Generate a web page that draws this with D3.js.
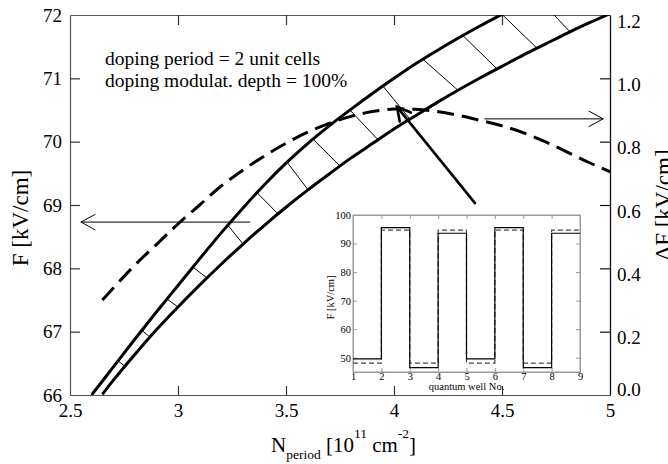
<!DOCTYPE html>
<html><head><meta charset="utf-8">
<script src="https://cdn.jsdelivr.net/npm/d3@7"></script>
<style>
body{margin:0;background:#fff}
svg{display:block}
</style>
</head><body>
<svg id="c" width="668" height="464"></svg>
<script>
// ---------- data ----------
const xTicks = [2.5, 3, 3.5, 4, 4.5, 5];
const xTickLabels = ["2.5", "3", "3.5", "4", "4.5", "5"];
const yTicks = [66, 67, 68, 69, 70, 71, 72];
const yRTicks = [0, 0.2, 0.4, 0.6, 0.8, 1.0, 1.2];

const upperN = [2.6,2.7,2.8,2.9,3.0,3.1,3.2,3.3,3.4,3.5,3.6,3.7,3.8,3.9,4.0,4.1,4.2,4.3,4.4,4.5,4.6,4.7,4.8,4.9];
const upperF = [66.0,66.44,66.88,67.31,67.73,68.15,68.56,68.95,69.32,69.66,69.97,70.25,70.51,70.76,71.00,71.23,71.44,71.64,71.83,72.01,72.19,72.36,72.53,72.69];

const lowerN = [2.65,2.7,2.8,2.9,3.0,3.1,3.2,3.3,3.4,3.5,3.6,3.7,3.8,3.9,4.0,4.1,4.2,4.3,4.4,4.5,4.6,4.7,4.8,4.9,5.0];
const lowerF = [66.01,66.23,66.64,67.03,67.39,67.735,68.065,68.38,68.68,68.965,69.235,69.49,69.74,69.97,70.20,70.41,70.62,70.82,71.01,71.19,71.37,71.54,71.71,71.87,72.02];

const dfN = [2.65,2.8,2.9,3.0,3.1,3.2,3.3,3.4,3.5,3.6,3.7,3.8,3.9,4.0,4.1,4.2,4.3,4.4,4.5,4.6,4.7,4.8,4.9,5.0];
const dfVal = [0.30,0.41,0.475,0.54,0.60,0.66,0.71,0.755,0.795,0.83,0.858,0.88,0.895,0.903,0.902,0.895,0.883,0.867,0.85,0.828,0.80,0.768,0.735,0.705];

// hatch lines: N on upper curve -> N on lower curve
const hatchUpperN = [2.722,2.833,2.949,3.069,3.231,3.366,3.505,3.625,3.796,3.949,4.134,4.319,4.5,4.66];
const hatchLowerN = [2.755,2.870,3.0,3.134,3.301,3.463,3.602,3.75,3.926,4.074,4.296,4.477,4.662,4.815];

// inset: quantum well field profile
const wellNo = [1,2,3,4,5,6,7,8,9];
const wellSolid = [49.6,95.6,46.5,93.6,49.6,95.6,46.5,93.6,93.6];
const wellDashed = [48.1,94.7,48.1,94.7,48.1,94.7,48.1,94.7,94.7];
const insetYTicks = [50,60,70,80,90,100];

const legendLines = ["doping period = 2 unit cells", "doping modulat. depth = 100%"];

// ---------- layout ----------
const FONT = "'Liberation Serif', 'Times New Roman', Times, 'DejaVu Serif', serif";
const svg = d3.select("#c").style("font-family", FONT);
const M = {l:70, r:610, t:15, b:395};
const x = d3.scaleLinear().domain([2.5,5]).range([M.l,M.r]);
const y = d3.scaleLinear().domain([66,72]).range([M.b,M.t]);
const yR = d3.scaleLinear().domain([0,1.2]).range([M.b,M.t]);

svg.append("defs").append("clipPath").attr("id","clip")
  .append("rect").attr("x",M.l).attr("y",M.t).attr("width",M.r-M.l).attr("height",M.b-M.t);

// ---------- axes ----------
const fs = "19px";
const gB = svg.append("g").attr("transform",`translate(0,${M.b})`)
  .call(d3.axisBottom(x).tickValues(xTicks).tickFormat((d,i)=>xTickLabels[i]).tickSize(-9).tickSizeOuter(0).tickPadding(9));
const gT = svg.append("g").attr("transform",`translate(0,${M.t})`)
  .call(d3.axisTop(x).tickValues(xTicks).tickFormat("").tickSize(-10).tickSizeOuter(0));
const gL = svg.append("g").attr("transform",`translate(${M.l},0)`)
  .call(d3.axisLeft(y).tickValues(yTicks).tickFormat(d3.format("d")).tickSize(-10).tickSizeOuter(0).tickPadding(8));
const gR = svg.append("g").attr("transform",`translate(${M.r},0)`)
  .call(d3.axisRight(yR).tickValues(yRTicks).tickFormat(d3.format(".1f")).tickSize(-10).tickSizeOuter(0).tickPadding(7));
[gB,gT,gL].forEach(g=>{g.select(".domain").attr("stroke","#555").attr("stroke-width",1.2);
  g.selectAll(".tick line").attr("stroke","#333").attr("stroke-width",1.2);});
gR.select(".domain").attr("stroke","#111").attr("stroke-width",1.3);
gR.selectAll(".tick line").attr("stroke","#111").attr("stroke-width",1.2);
[gB,gT,gL,gR].forEach(g=>g.attr("font-family",null).attr("font-size",null));
svg.selectAll(".tick text").style("font-size",fs).style("font-family",FONT).attr("fill","#000");
gR.selectAll(".tick text").attr("transform",d=> d===0 ? "translate(0,-6)" : "translate(0,6)");
svg.selectAll(".tick").filter(d=>d===2.5||d===5||d===66||d===72).select("line").remove();
gR.selectAll(".tick").filter(d=>d===0||d===1.2).select("line").remove();

// axis titles
const xt = svg.append("text").attr("x",271).attr("y",452).style("font-size","21px").style("font-family",FONT);
xt.append("tspan").text("N");
xt.append("tspan").attr("dy",7).style("font-size","13.5px").text("period");
xt.append("tspan").attr("dy",-7).text(" [10");
xt.append("tspan").attr("dy",-14).style("font-size","13.5px").text("11");
xt.append("tspan").attr("dy",14).text(" cm");
xt.append("tspan").attr("dy",-14).style("font-size","13.5px").text("-2");
xt.append("tspan").attr("dy",14).text("]");

svg.append("text").attr("transform","translate(28,218) rotate(-90)").style("font-family",FONT)
  .attr("text-anchor","middle").style("font-size","23px").text("F [kV/cm]");
svg.append("text").attr("transform","translate(671,205) rotate(-90)").style("font-family",FONT)
  .attr("text-anchor","middle").style("font-size","23px").text("ΔF [kV/cm]");

// ---------- curves ----------
const plot = svg.append("g").attr("clip-path","url(#clip)");
const upperPts = upperN.map((n,i)=>[n,upperF[i]]);
const lowerPts = lowerN.map((n,i)=>[n,lowerF[i]]);
const dfPts = dfN.map((n,i)=>[n,dfVal[i]]);
const lineF = d3.line().x(d=>x(d[0])).y(d=>y(d[1])).curve(d3.curveCatmullRom);
const lineDF = d3.line().x(d=>x(d[0])).y(d=>yR(d[1])).curve(d3.curveCatmullRom);

const upInterp = d3.scaleLinear().domain(upperN).range(upperF);
const loInterp = d3.scaleLinear().domain(lowerN).range(lowerF);
plot.selectAll("line.hatch").data(hatchUpperN).join("line").attr("class","hatch")
  .attr("x1",d=>x(d)).attr("y1",d=>y(upInterp(d)))
  .attr("x2",(d,i)=>x(hatchLowerN[i])).attr("y2",(d,i)=>y(loInterp(hatchLowerN[i])))
  .attr("stroke","#000").attr("stroke-width",1);

plot.append("path").attr("d",lineF(upperPts)).attr("fill","none").attr("stroke","#000").attr("stroke-width",3);
plot.append("path").attr("d",lineF(lowerPts)).attr("fill","none").attr("stroke","#000").attr("stroke-width",3);
plot.append("path").attr("d",lineDF(dfPts)).attr("fill","none").attr("stroke","#000").attr("stroke-width",3)
  .attr("stroke-dasharray","17,8");

// ---------- legend text ----------
svg.selectAll("text.leg").data(legendLines).join("text").attr("class","leg").style("font-family",FONT)
  .attr("x",105).attr("y",(d,i)=>65+i*22).style("font-size","19.5px").text(d=>d);

// ---------- arrows ----------
function arrow(p0, p1, w, L, ang){
  const g = svg.append("g").attr("fill","none").attr("stroke","#000").attr("stroke-width",w).attr("stroke-linecap","round");
  g.append("line").attr("x1",p0[0]).attr("y1",p0[1]).attr("x2",p1[0]).attr("y2",p1[1]);
  const dx=p0[0]-p1[0], dy=p0[1]-p1[1], len=Math.hypot(dx,dy);
  const ux=dx/len, uy=dy/len;
  const w1=[p1[0]+L*(ux*Math.cos(ang)-uy*Math.sin(ang)), p1[1]+L*(ux*Math.sin(ang)+uy*Math.cos(ang))];
  const w2=[p1[0]+L*(ux*Math.cos(-ang)-uy*Math.sin(-ang)), p1[1]+L*(ux*Math.sin(-ang)+uy*Math.cos(-ang))];
  g.append("path").attr("d",`M${w1}L${p1}L${w2}`).attr("stroke-linejoin","miter");
}
arrow([x(3.333),y(68.73)],[x(2.551),y(68.73)],1,16,0.5);
arrow([x(4.421),yR(0.872)],[x(4.968),yR(0.872)],1,16,0.5);
arrow([x(4.375),y(69.03)],[x(4.014),y(70.55)],2.6,15,0.5);

// ---------- inset ----------
const I = {l:353, r:580, t:215, b:372};
const xi = d3.scaleLinear().domain([1,9]).range([I.l,I.r]);
const yi = d3.scaleLinear().domain([45,100]).range([I.b,I.t]);
const ig = svg.append("g");
ig.append("rect").attr("x",I.l).attr("y",I.t).attr("width",I.r-I.l).attr("height",I.b-I.t)
  .attr("fill","#fff").attr("stroke","#999").attr("stroke-width",1);
const giL = ig.append("g").attr("transform",`translate(${I.l},0)`)
  .call(d3.axisLeft(yi).tickValues(insetYTicks).tickSize(-4).tickSizeOuter(0).tickPadding(2));
const giB = ig.append("g").attr("transform",`translate(0,${I.b})`)
  .call(d3.axisBottom(xi).tickValues(wellNo).tickFormat(d3.format("d")).tickSize(-4).tickSizeOuter(0).tickPadding(1));
const giR = ig.append("g").attr("transform",`translate(${I.r},0)`)
  .call(d3.axisRight(yi).tickValues(insetYTicks).tickFormat("").tickSize(-4).tickSizeOuter(0));
const giT = ig.append("g").attr("transform",`translate(0,${I.t})`)
  .call(d3.axisTop(xi).tickValues(wellNo).tickFormat("").tickSize(-4).tickSizeOuter(0));
[giL,giB,giR,giT].forEach(g=>{g.attr("font-family",null).attr("font-size",null);
  g.select(".domain").attr("stroke","#999");
  g.selectAll(".tick line").attr("stroke","#999");
  g.selectAll(".tick text").style("font-family",FONT).style("font-size","10.5px").attr("fill","#000");});
const stepLine = d3.line().x((d,i)=>xi(wellNo[i])).y(d=>yi(d)).curve(d3.curveStepAfter);
ig.append("path").attr("d",stepLine(wellDashed)).attr("fill","none").attr("stroke","#444")
  .attr("stroke-width",1.2).attr("stroke-dasharray","5,3");
ig.append("path").attr("d",stepLine(wellSolid)).attr("fill","none").attr("stroke","#000").attr("stroke-width",1.2);
ig.append("text").attr("x",(I.l+I.r)/2).attr("y",390).attr("text-anchor","middle").style("font-family",FONT)
  .style("font-size","10.5px").text("quantum well No.");
ig.append("text").attr("transform",`translate(334,${(I.t+I.b)/2+4}) rotate(-90)`).attr("text-anchor","middle")
  .style("font-family",FONT).style("font-size","10.5px").text("F [kV/cm]");
</script>
</body></html>
